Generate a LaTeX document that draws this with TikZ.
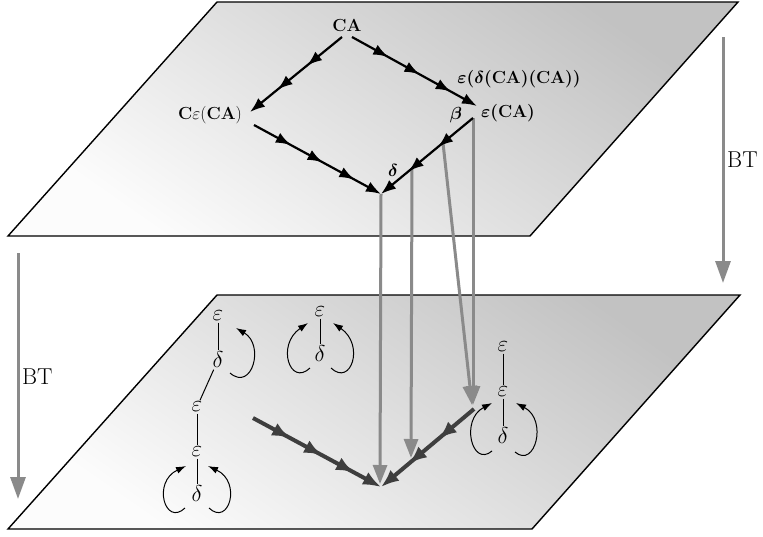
\RequirePackage{fix-cm}
\documentclass[tikz,border=0pt]{standalone}
\usepackage{bm}
\usetikzlibrary{arrows.meta,decorations.markings}
\definecolor{tgray}{RGB}{138,138,138}
\definecolor{dgray}{RGB}{62,62,62}
\tikzset{
  bhead/.tip={Latex[length=15pt,width=11pt]},
  dhead/.tip={Latex[length=18pt,width=14pt]},
  ghead/.tip={Triangle[length=19pt,width=14pt]},
  bthead/.tip={Triangle[length=22pt,width=15pt]},
  lhead/.tip={Latex[length=10pt,width=7pt]},
  hthree/.style={postaction={decorate}, decoration={markings,
      mark=at position 0.38 with {\arrow{#1}},
      mark=at position 0.70 with {\arrow{#1}}}, -#1},
  hfour/.style={postaction={decorate}, decoration={markings,
      mark=at position 0.29 with {\arrow{#1}},
      mark=at position 0.54 with {\arrow{#1}},
      mark=at position 0.79 with {\arrow{#1}}}, -#1},
  blk/.style={line width=2.2pt, color=black},
  drk/.style={line width=4pt, color=dgray},
  gry/.style={line width=3pt, color=tgray, -ghead},
  btarrow/.style={line width=3pt, color=tgray, -bthead},
  plane/.style={draw=black, line width=1.4pt, top color=gray!48, bottom color=gray!2, shading angle=-35},
  lab/.style={font=\fontsize{17.5}{20}\selectfont, inner sep=1pt},
  btlab/.style={font=\fontsize{23}{27}\selectfont, inner sep=1pt, anchor=west},
  gk/.style={font=\fontsize{23}{27}\selectfont, inner sep=1.5pt},
  tline/.style={line width=1pt},
  lp/.style={line width=1pt, -lhead}
}
\begin{document}
\begin{tikzpicture}[x=1pt,y=-1pt]
\useasboundingbox (0,0) rectangle (763,536);
% planes
\path[plane] (217,2) -- (738,2) -- (530,236) -- (8,236) -- cycle;
\path[plane] (217,295) -- (740,295) -- (532,529) -- (8,529) -- cycle;

% BT arrows
\coordinate (btla) at (18,253);
\coordinate (btlb) at (18,499);
\draw[btarrow] (btla) -- (btlb);
\node[btlab] (btl) at (21,377) {BT};
\coordinate (btra) at (723,37);
\coordinate (btrb) at (723,283);
\draw[btarrow] (btra) -- (btrb);
\node[btlab] (btr) at (726,160) {BT};

% top plane labels
\node[lab] (ca) at (347,25) {$\mathbf{CA}$};
\node[lab] (cea) at (210,115) {$\mathbf{C}\varepsilon(\mathbf{CA})$};
\node[lab] (edca) at (519,79) {$\bm{\varepsilon(\delta(}\mathbf{CA}\bm{)(}\mathbf{CA}\bm{))}$};
\node[lab] (beta) at (456,115) {$\bm{\beta}$};
\node[lab] (eca) at (508,113) {$\bm{\varepsilon(}\mathbf{CA}\bm{)}$};
\node[lab] (dl) at (393,170) {$\bm{\delta}$};

% top plane points
\coordinate (a1s) at (342,37);
\coordinate (a1e) at (250,112);
\coordinate (a2s) at (352,37);
\coordinate (a2e) at (477,106);
\coordinate (a3s) at (254,125);
\coordinate (v) at (381,194);
\coordinate (a4s) at (473,118);
\coordinate (p1) at (412,168);
\coordinate (p2) at (443,143);

% bottom plane points
\coordinate (w) at (381,487);
\coordinate (wg) at (380,484);
\coordinate (t1) at (411,458);
\coordinate (t2) at (472,405);
\coordinate (t3) at (473,405);
\coordinate (s1) at (253,418);
\coordinate (q) at (474,409);

% transfer arrows
\draw[gry] (v) -- (wg);
\draw[gry] (p1) -- (t1);
\draw[gry] (p2) -- (t2);
\draw[gry] (a4s) -- (t3);

% top plane arrows
\draw[blk, hthree=bhead] (a1s) -- (a1e);
\draw[blk, hfour=bhead] (a2s) -- (a2e);
\draw[blk, hfour=bhead] (a3s) -- (v);
\draw[blk, hthree=bhead] (a4s) -- (v);

% bottom plane arrows
\draw[drk, hfour=dhead] (s1) -- (w);
\draw[drk, hthree=dhead] (q) -- (w);

% tree 1
\node[gk] (e11) at (218,316) {$\varepsilon$};
\node[gk] (d11) at (218,360) {$\delta$};
\node[gk] (e12) at (197,407) {$\varepsilon$};
\node[gk] (e13) at (197,452) {$\varepsilon$};
\node[gk] (d12) at (197,494) {$\delta$};
\draw[tline] (e11) -- (d11);
\draw[tline] (d11) -- (e12);
\draw[tline] (e12) -- (e13);
\draw[tline] (e13) -- (d12);
\coordinate (l1s) at (230,373);
\coordinate (l1e) at (236,328);
\draw[lp] (l1s) .. controls (252,392) and (265,345) .. (l1e);
\coordinate (l2s) at (185,508);
\coordinate (l2e) at (186,466);
\draw[lp] (l2s) .. controls (165,527) and (152,482) .. (l2e);
\coordinate (l3s) at (209,508);
\coordinate (l3e) at (208,466);
\draw[lp] (l3s) .. controls (229,527) and (242,482) .. (l3e);

% tree 2
\node[gk] (e21) at (320,312) {$\varepsilon$};
\node[gk] (d21) at (320,354) {$\delta$};
\draw[tline] (e21) -- (d21);
\coordinate (l4s) at (310,368);
\coordinate (l4e) at (308,323);
\draw[lp] (l4s) .. controls (290,387) and (276,345) .. (l4e);
\coordinate (l5s) at (331,368);
\coordinate (l5e) at (333,323);
\draw[lp] (l5s) .. controls (351,387) and (365,345) .. (l5e);

% tree 3
\node[gk] (e31) at (503,347) {$\varepsilon$};
\node[gk] (e32) at (503,392) {$\varepsilon$};
\node[gk] (d31) at (503,436) {$\delta$};
\draw[tline] (e31) -- (e32);
\draw[tline] (e32) -- (d31);
\coordinate (l6s) at (492,451);
\coordinate (l6e) at (492,403);
\draw[lp] (l6s) .. controls (472,468) and (460,420) .. (l6e);
\coordinate (l7s) at (515,452);
\coordinate (l7e) at (516,403);
\draw[lp] (l7s) .. controls (535,469) and (548,420) .. (l7e);
\end{tikzpicture}
\end{document}
